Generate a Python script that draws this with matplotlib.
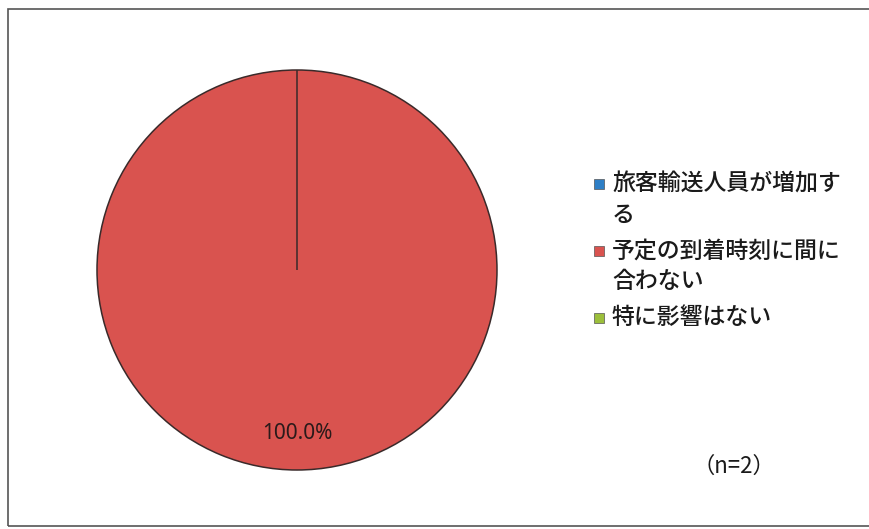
import matplotlib
matplotlib.use("Agg")
import matplotlib.pyplot as plt
from matplotlib.patches import Rectangle

plt.rcParams['font.family'] = ['Noto Sans CJK JP', 'DejaVu Sans']

# data
categories = ['旅客輸送人員が増加す\nる', '予定の到着時刻に間に\n合わない', '特に影響はない']
counts = [0, 2, 0]
colors = ['#2E7FC6', '#D9534F', '#9CBF3B']
note = '（n=2）'

W, H = 869, 529
fig = plt.figure(figsize=(W / 100, H / 100), dpi=100)

# pie: centre at (297, 270) px, radius ~202 px
cx, cy, r = 297, 270, 202
ax = fig.add_axes([(cx - r) / W, (H - cy - r) / H, 2 * r / W, 2 * r / H])
wedges, texts, autotexts = ax.pie(
    counts, colors=colors, startangle=90, counterclock=False,
    autopct=lambda p: f'{p:.1f}%' if p > 0 else '', pctdistance=0.82,
    wedgeprops=dict(edgecolor='#3a2a2a', linewidth=1.1))
for t in autotexts:
    t.set_fontfamily(['Noto Sans', 'DejaVu Sans'])
    t.set_fontsize(15)
    t.set_color('#2a1a1a')
ax.set_xlim(-1.01, 1.01)
ax.set_ylim(-1.01, 1.01)

# legend drawn by hand so the key sits on the first line of wrapped labels
y = 184
for label, c in zip(categories, colors):
    fig.add_artist(Rectangle((594 / W, 1 - (y + 5) / H), 10 / W, 10 / H,
                             transform=fig.transFigure, facecolor=c,
                             edgecolor='#555555', linewidth=0.5))
    lines = label.split('\n')
    for i, ln in enumerate(lines):
        fig.text(612 / W, 1 - (y + i * 31) / H, ln, fontsize=16.5,
                 fontweight='medium', va='center', ha='left', color='#1a1a1a')
    y += len(lines) * 31 + 5

fig.text(734 / W, 1 - 466 / H, note, fontsize=16, ha='center', va='center',
         color='#1a1a1a')

# outer frame (right side runs off the page)
fig.add_artist(Rectangle((8 / W, 3 / H), 1.0, 1 - 12 / H,
                         transform=fig.transFigure, fill=False,
                         edgecolor='#555555', linewidth=1.2))

fig.savefig('out.png', dpi=100)
